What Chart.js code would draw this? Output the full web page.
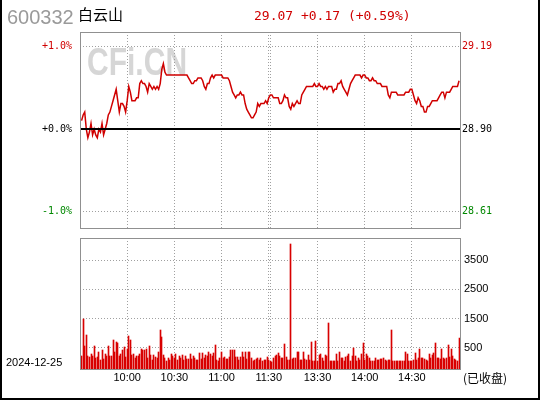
<!DOCTYPE html>
<html>
<head>
<meta charset="utf-8">
<script src="https://cdn.jsdelivr.net/npm/chart.js@4.4.1/dist/chart.umd.min.js"></script>
<style>
  body { margin: 0; background: #fff; }
  #wrap { position: relative; width: 540px; height: 400px; overflow: hidden; background: #fff; }
  canvas { position: absolute; left: 0; }
  .txt { position: absolute; white-space: nowrap; line-height: 1; }
  .edge { position: absolute; background: #000; }
</style>
</head>
<body>
<div id="wrap">
  <canvas id="priceChart" width="540" height="232" style="top:0"></canvas>
  <canvas id="volChart" width="540" height="168" style="top:232px"></canvas>
  <div class="txt" id="code" style="left:7px;top:7px;font-size:20px;font-family:'Liberation Sans';color:#9a9a9a"></div>
  <div class="txt" id="name" style="left:78px;top:6px;font-size:15px;font-family:'Noto Sans CJK SC';color:#000"></div>
  <div class="txt" id="quote" style="left:254px;top:8.5px;font-size:13px;font-family:'DejaVu Sans Mono';color:#d00000"></div>
  <div class="txt" id="date" style="left:6px;top:357px;font-size:11px;font-family:'Liberation Sans';color:#000"></div>
  <div class="txt" id="status" style="left:463px;top:372px;font-size:12px;font-family:'Noto Sans CJK SC';color:#000"></div>
  <div class="edge" style="left:0;top:0;width:2px;height:400px"></div>
  <div class="edge" style="left:538px;top:0;width:2px;height:400px"></div>
  <div class="edge" style="left:0;top:398px;width:540px;height:2px"></div>
</div>
<script>
// stock info
const stockCode = '600332';
const stockName = '白云山';
const tradeDate = '2024-12-25';
const statusText = '(已收盘)';
const preClose = 28.90;

// minute index: 0 = 9:30, 120 = 11:30, 121 = 13:00, 241 = 15:00
const gridIdx = [30, 60, 90, 120, 121, 151, 181, 211];
const timeLabels = ['10:00', '10:30', '11:00', '11:30', '', '13:30', '14:00', '14:30'];

// price axis, percent from pre-close
const pctTicks = [-1, 0, 1];
const pctMin = -1.2;
const pctMax = 1.18;

// last price per minute, minutes 1..241
const priceData = [
  28.93, 28.95, 28.96, 28.90, 28.87, 28.89, 28.92, 28.88, 28.90, 28.88,
  28.87, 28.90, 28.89, 28.92, 28.88, 28.90, 28.92, 28.95, 28.96, 28.98,
  29.00, 29.02, 29.04, 29.00, 28.96, 28.99, 28.99, 28.98, 28.96, 29.00,
  29.05, 29.03, 29.00, 29.00, 29.00, 29.01, 29.01, 29.06, 29.07, 29.06,
  29.06, 29.05, 29.03, 29.06, 29.05, 29.04, 29.05, 29.04, 29.05, 29.04,
  29.06, 29.11, 29.13, 29.10, 29.09, 29.09, 29.09, 29.09, 29.09, 29.09,
  29.09, 29.09, 29.09, 29.09, 29.09, 29.09, 29.09, 29.09, 29.08, 29.07,
  29.06, 29.06, 29.07, 29.07, 29.08, 29.08, 29.08, 29.07, 29.05, 29.04,
  29.06, 29.06, 29.08, 29.09, 29.08, 29.09, 29.09, 29.09, 29.09, 29.09,
  29.08, 29.08, 29.08, 29.08, 29.07, 29.05, 29.03, 29.02, 29.01, 29.02,
  29.02, 29.03, 29.02, 29.02, 28.99, 28.97, 28.96, 28.95, 28.94, 28.94,
  28.95, 28.96, 28.99, 28.98, 28.99, 28.99, 28.99, 29.00, 28.99, 29.01,
  29.02, 29.02, 29.01, 29.01, 29.01, 29.01, 28.99, 28.99, 29.00, 29.02,
  29.01, 29.01, 28.98, 28.97, 28.99, 28.98, 28.99, 29.00, 28.99, 28.99,
  29.02, 29.03, 29.04, 29.05, 29.05, 29.05, 29.05, 29.05, 29.06, 29.05,
  29.05, 29.06, 29.05, 29.05, 29.04, 29.05, 29.04, 29.05, 29.05, 29.05,
  29.03, 29.04, 29.04, 29.06, 29.06, 29.07, 29.05, 29.04, 29.03, 29.02,
  29.04, 29.06, 29.07, 29.08, 29.09, 29.09, 29.09, 29.09, 29.08, 29.09,
  29.09, 29.08, 29.08, 29.07, 29.07, 29.08, 29.07, 29.07, 29.06, 29.06,
  29.06, 29.05, 29.05, 29.05, 29.05, 29.02, 29.01, 29.03, 29.03, 29.03,
  29.03, 29.02, 29.02, 29.02, 29.02, 29.02, 29.03, 29.03, 29.03, 29.04,
  29.04, 29.02, 29.00, 28.99, 29.01, 29.00, 28.98, 28.98, 28.96, 28.96,
  28.98, 28.98, 28.99, 29.00, 29.00, 29.00, 29.00, 29.01, 29.02, 29.03,
  29.03, 29.01, 29.03, 29.03, 29.03, 29.04, 29.05, 29.05, 29.05, 29.05, 29.07
];

// volume per minute (lots), minutes 1..241
const volData = [
  410, 1610, 730, 1100, 430, 370, 490, 410, 730, 350,
  370, 540, 300, 620, 320, 490, 430, 730, 430, 430,
  920, 560, 880, 840, 410, 490, 600, 700, 370, 640,
  1070, 920, 460, 490, 350, 430, 410, 490, 640, 620,
  600, 640, 340, 730, 460, 280, 460, 390, 350, 560,
  1240, 1020, 460, 350, 250, 340, 280, 490, 430, 350,
  490, 300, 430, 360, 460, 300, 430, 330, 330,
  490, 320, 410, 350, 300, 280, 510, 320, 510, 350,
  460, 430, 540, 490, 410, 510, 780, 300, 250, 360,
  560, 350, 370, 320, 320, 400, 600, 620, 620, 400,
  400, 300, 400, 540, 400, 540, 320, 540, 540, 340,
  250, 290, 320, 350, 280, 350, 250, 300, 280, 400, 300,
  270, 210, 350, 430, 460, 510, 430, 350, 350, 810,
  390, 300, 280, 4030, 320, 350, 350, 540, 540, 300,
  280, 550, 320, 300, 460, 280, 870, 270, 270, 910,
  250, 460, 480, 350, 270, 450, 410, 1480, 250,
  270, 270, 270, 480, 250, 550, 350, 350, 250, 390,
  430, 490, 270, 430, 670, 430, 270, 350, 300, 490,
  840, 300, 480, 410, 350, 270, 250, 250, 350, 300,
  300, 320, 320, 350, 280, 250, 300, 300, 1260, 250,
  250, 270, 250, 270, 250, 250, 250, 560, 490, 250,
  250, 270, 300, 510, 300, 350, 640, 350, 350, 330,
  300, 270, 490, 350, 460, 510, 840, 350, 350, 330,
  650, 350, 330, 350, 780, 370, 640, 410, 320, 280, 250, 1000
];

// volume axis: grid values and the rounded labels the source prints beside them
const volMax = 4210;
const volGrid = [680, 1618, 2556, 3494];
const volTickLabels = ['500', '1500', '2500', '3500'];

const RED = '#d00000';
const GREEN = '#008800';
const GRID = '#a0a0a0';

Chart.defaults.font.family = 'Liberation Sans';
Chart.defaults.color = '#000';

const last = priceData[priceData.length - 1];
const chg = last - preClose;
const sign = chg >= 0 ? '+' : '-';
document.getElementById('code').textContent = stockCode;
document.getElementById('name').textContent = stockName;
document.getElementById('quote').textContent =
  last.toFixed(2) + ' ' + sign + Math.abs(chg).toFixed(2) + ' (' + sign + Math.abs(chg / preClose * 100).toFixed(2) + '%)';
document.getElementById('date').textContent = tradeDate;
document.getElementById('status').textContent = statusText;

function colorFor(d) {
  if (d > 1e-6) return RED;
  if (d < -1e-6) return GREEN;
  return '#000';
}

// keep the plot area where we put it: no extra room for edge labels
function fixWidth(s) {
  s.width = 80;
  s.paddingTop = 0;
  s.paddingBottom = 0;
}

function timeAxis(showLabels) {
  return {
    type: 'linear',
    min: 0,
    max: 241.6,
    offset: false,
    afterBuildTicks: s => { s.ticks = gridIdx.map(v => ({ value: v })); },
    afterFit: s => {
      s.height = showLabels ? 31 : 4;
      s.paddingLeft = 0;
      s.paddingRight = 0;
    },
    grid: { color: GRID, drawTicks: false, offset: false },
    border: { display: false, dash: [1, 2] },
    ticks: {
      display: showLabels,
      autoSkip: false,
      maxRotation: 0,
      padding: 2,
      font: { size: 11 },
      callback: (v, i) => timeLabels[i]
    }
  };
}

function drawFrame(chart) {
  const { ctx, chartArea: a } = chart;
  ctx.save();
  ctx.strokeStyle = '#909090';
  ctx.lineWidth = 1;
  ctx.strokeRect(Math.round(a.left) + 0.5, Math.round(a.top) + 0.5,
    Math.round(a.right - a.left), Math.round(a.bottom - a.top));
  ctx.restore();
}

const priceDecor = {
  id: 'priceDecor',
  beforeDraw(chart) {
    const { ctx, chartArea: a } = chart;
    ctx.save();
    ctx.beginPath();
    ctx.rect(a.left, a.top, a.right - a.left, a.bottom - a.top);
    ctx.clip();
    ctx.fillStyle = '#d6d6d6';
    ctx.font = 'bold 39px "Liberation Sans"';
    ctx.translate(a.left + 7, a.top + 43);
    ctx.scale(0.77, 1);
    ctx.fillText('CFi.CN', 0, 0);
    ctx.restore();
  },
  afterDatasetsDraw(chart) {
    // pre-close line
    const { ctx, chartArea: a } = chart;
    const y = Math.round(chart.scales.yPct.getPixelForValue(0));
    ctx.save();
    ctx.fillStyle = '#000';
    ctx.fillRect(a.left, y - 1, a.right - a.left, 2);
    ctx.restore();
  },
  afterDraw: drawFrame
};

// snap the 1px volume bars onto whole pixels so they stay crisp
const snapBars = {
  id: 'snapBars',
  beforeDatasetsDraw(chart) {
    chart.getDatasetMeta(0).data.forEach(el => {
      el.x = Math.floor(el.x) + 0.5;
      el.base = Math.round(el.base);
      el.y = Math.round(el.y);
    });
  },
  afterDraw: drawFrame
};

new Chart(document.getElementById('priceChart'), {
  type: 'line',
  data: {
    datasets: [{
      data: priceData.map((p, k) => ({ x: k + 1, y: p })),
      yAxisID: 'yPrice',
      borderColor: RED,
      borderWidth: 1.5,
      pointRadius: 0,
      tension: 0
    }]
  },
  options: {
    responsive: false,
    animation: false,
    layout: { padding: { top: 32, left: 0, right: 0, bottom: 0 } },
    plugins: { legend: { display: false }, tooltip: { enabled: false } },
    scales: {
      x: timeAxis(false),
      yPct: {
        position: 'left',
        min: pctMin,
        max: pctMax,
        afterBuildTicks: s => { s.ticks = pctTicks.map(v => ({ value: v })); },
        afterFit: fixWidth,
        grid: { color: GRID, drawTicks: false },
        border: { display: false, dash: [1, 2] },
        ticks: {
          padding: 8,
          font: { family: 'DejaVu Sans Mono', size: 10 },
          color: c => colorFor(c.tick.value),
          callback: v => (v >= 0 ? '+' : '') + v.toFixed(1) + '%'
        }
      },
      yPrice: {
        position: 'right',
        min: preClose * (1 + pctMin / 100),
        max: preClose * (1 + pctMax / 100),
        afterBuildTicks: s => { s.ticks = pctTicks.map(p => ({ value: preClose * (1 + p / 100) })); },
        afterFit: fixWidth,
        grid: { display: false, drawTicks: false },
        border: { display: false },
        ticks: {
          padding: 2,
          font: { family: 'DejaVu Sans Mono', size: 10 },
          color: c => colorFor(c.tick.value - preClose),
          callback: v => v.toFixed(2)
        }
      }
    }
  },
  plugins: [priceDecor]
});

new Chart(document.getElementById('volChart'), {
  type: 'bar',
  data: {
    datasets: [{
      data: volData.map((v, k) => ({ x: k + 1, y: v })),
      backgroundColor: '#d80000',
      borderWidth: 0,
      barThickness: 1
    }]
  },
  options: {
    responsive: false,
    animation: false,
    layout: { padding: { top: 6, left: 80, right: 0, bottom: 0 } },
    plugins: { legend: { display: false }, tooltip: { enabled: false } },
    scales: {
      x: timeAxis(true),
      y: {
        position: 'right',
        min: 0,
        max: volMax,
        afterBuildTicks: s => { s.ticks = volGrid.map(v => ({ value: v })); },
        afterFit: fixWidth,
        grid: { color: GRID, drawTicks: false },
        border: { display: false, dash: [1, 2] },
        ticks: {
          padding: 4,
          font: { size: 11 },
          callback: (v, i) => volTickLabels[i]
        }
      }
    }
  },
  plugins: [snapBars]
});
</script>
</body>
</html>
